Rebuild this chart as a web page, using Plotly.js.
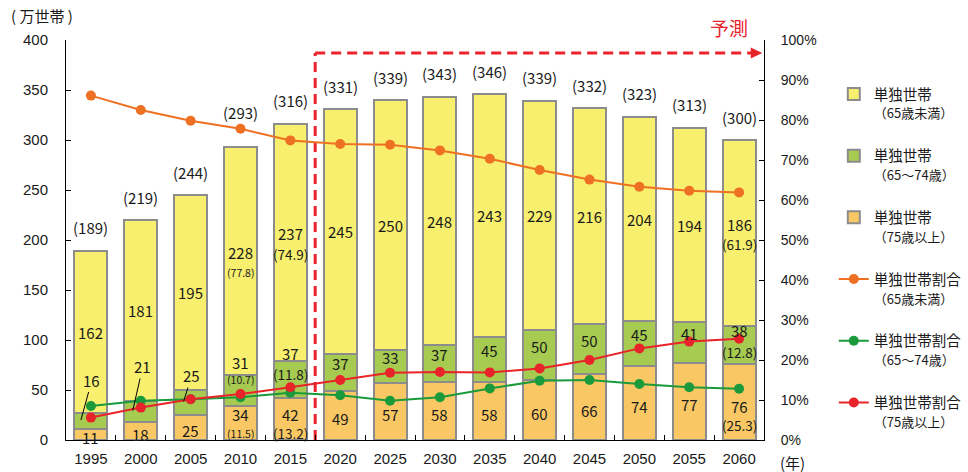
<!DOCTYPE html>
<html><head><meta charset="utf-8">
<script src="https://cdn.plot.ly/plotly-3.0.1.min.js"></script>
<style>html,body{margin:0;padding:0;background:#fff}#chart{width:968px;height:472px}</style>
</head><body><div id="chart"></div>
<script>
// ---- data ----
const years = ['1995','2000','2005','2010','2015','2020','2025','2030','2035','2040','2045','2050','2055','2060'];
const under65   = [162,181,195,228,237,245,250,248,243,229,216,204,194,186];
const age65to74 = [16,21,25,31,37,37,33,37,45,50,50,45,41,38];
const age75plus = [11,18,25,34,42,49,57,58,58,60,66,74,77,76];
const totals    = [189,219,244,293,316,331,339,343,346,339,332,323,313,300];
const shareUnder65  = [86.1,82.5,79.8,77.8,74.9,74.0,73.8,72.4,70.3,67.5,65.1,63.3,62.3,61.9];
const share65to74   = [8.5,9.8,10.2,10.7,11.8,11.2,9.8,10.7,12.9,14.8,15.0,14.0,13.2,12.8];
const share75plus   = [5.6,8.1,10.2,11.5,13.2,15.0,16.8,17.0,16.9,17.9,20.0,22.9,24.6,25.3];
const pctShownIdx = [3,4,13];

// ---- styles / label placement ----
const C = {yellow:'#f8ef6e', green:'#a7ca50', orange:'#f9c864', edge:'#8c8c8c',
           lOrange:'#ee7023', lGreen:'#1b9a3c', lRed:'#e8232a', red:'#e8232a'};
const JP = '"Noto Sans CJK JP", sans-serif';
const NUM = '"Liberation Sans", Arial, sans-serif';
const valFont = {family:JP, size:15, color:'#1a1a1a'};
const totalLift = [24,24,24,35,24,23,24,24,23,24,23,24,23,23];
// leader-lines for small green segments (pixel offsets of the label from the pointed spot)
const leader = {0:{xs:-10, ax:11, ay:-40}, 1:{xs:-8, ax:10, ay:-44}, 2:{xs:-7, ax:8, ay:-26}};
const greenPct = {3:{v:13, p:-4}, 4:{v:8, p:-13}, 13:{v:-4, p:-26}};

const sub = t => '<br><span style="font-size:13px">' + t + '</span>';
const traces = [
  {type:'bar', x:years, y:age75plus, name:'単独世帯' + sub('（75歳以上）'),
   marker:{color:C.orange, line:{color:C.edge, width:2}}, legendrank:3, legendgroup:'c', hoverinfo:'skip'},
  {type:'bar', x:years, y:age65to74, name:'単独世帯' + sub('（65～74歳）'),
   marker:{color:C.green, line:{color:C.edge, width:2}}, legendrank:2, legendgroup:'b', hoverinfo:'skip'},
  {type:'bar', x:years, y:under65, name:'単独世帯' + sub('（65歳未満）'),
   marker:{color:C.yellow, line:{color:C.edge, width:2}}, legendrank:1, legendgroup:'a', hoverinfo:'skip'},
  {type:'scatter', mode:'lines+markers', x:years, y:shareUnder65, yaxis:'y2',
   name:'単独世帯割合' + sub('（65歳未満）'),
   line:{color:C.lOrange, width:2}, marker:{color:C.lOrange, size:10}, legendrank:4, legendgroup:'d', hoverinfo:'skip'},
  {type:'scatter', mode:'lines+markers', x:years, y:share65to74, yaxis:'y2',
   name:'単独世帯割合' + sub('（65～74歳）'),
   line:{color:C.lGreen, width:2}, marker:{color:C.lGreen, size:10}, legendrank:5, legendgroup:'e', hoverinfo:'skip'},
  {type:'scatter', mode:'lines+markers', x:years, y:share75plus, yaxis:'y2',
   name:'単独世帯割合' + sub('（75歳以上）'),
   line:{color:C.lRed, width:2}, marker:{color:C.lRed, size:10}, legendrank:6, legendgroup:'f', hoverinfo:'skip'}
];

const ann = [];
years.forEach((yr,i)=>{
  const o = age75plus[i], g = age65to74[i], u = under65[i];
  const hasPct = pctShownIdx.includes(i);
  const pFont = {family:JP, size: i===3 ? 10.5 : 13.5, color:'#1a1a1a'};
  const base = {x:i, xref:'x', yref:'y', showarrow:false, xanchor:'center', yanchor:'middle', font:valFont};
  const add = o => ann.push(Object.assign({}, base, o));
  // total
  add({y:totals[i]+totalLift[i], text:'('+totals[i]+')'});
  // under 65
  const mu = o + g + u/2;
  if (hasPct) {
    add({y:mu+9, text:String(u)});
    add({y:mu-11, text:'('+shareUnder65[i].toFixed(1)+')', font:pFont});
  } else {
    add({y:mu, text:String(u)});
  }
  // 65-74
  const top = o + g;
  if (leader[i]) {
    const L = leader[i];
    add({y:o + g/2 + 1, text:String(g), showarrow:true, arrowhead:0, arrowwidth:1, arrowcolor:'#000',
         ax:L.ax, ay:L.ay, xshift:L.xs, standoff:0});
  } else if (greenPct[i]) {
    add({y:top+greenPct[i].v, text:String(g)});
    add({y:top+greenPct[i].p, text:'('+share65to74[i].toFixed(1)+')', font:pFont});
  } else {
    add({y:o + g/2 + 9, text:String(g)});
  }
  // 75+
  if (hasPct) {
    const py = Math.max(o/2 - 23, 7);
    add({y:py+19, text:String(o)});
    add({y:py, text:'('+share75plus[i].toFixed(1)+')', font:pFont});
  } else {
    add({y:o/2 - 3, text:String(o)});
  }
});
const paperTxt = (x,y,text,font) => ann.push({xref:'paper', yref:'paper', x:x, y:y, xanchor:'center', yanchor:'middle', text:text, showarrow:false, font:font});
paperTxt(-0.035, 1.0625, '( 万世帯 )', {family:JP, size:15, color:'#1a1a1a'});
paperTxt(0.95, 1.0325, '予測', {family:JP, size:19, color:C.red});
paperTxt(1.0415, -0.055, '(年)', {family:JP, size:15, color:'#1a1a1a'});

const dashLine = {color:C.red, width:3, dash:'10px,6px'};
const shapes = [
  {type:'line', xref:'paper', yref:'paper', x0:0.357, x1:0.357, y0:0, y1:0.9675, line:dashLine, layer:'below'},
  {type:'line', xref:'paper', yref:'paper', x0:0.357, x1:0.982, y0:0.9675, y1:0.9675, line:dashLine, layer:'below'},
  {type:'path', xref:'paper', yref:'paper', path:'M0.981,0.981 L0.9975,0.9675 L0.981,0.954 Z', fillcolor:C.red, line:{width:0}}
];

const axBase = {showgrid:false, zeroline:false, showline:true, linecolor:'#000', linewidth:1,
                ticks:'inside', ticklen:5, tickcolor:'#000', fixedrange:true, automargin:false};
const layout = {
  width:968, height:472, paper_bgcolor:'#fff', plot_bgcolor:'#fff',
  margin:{l:66, r:204, t:40, b:32, autoexpand:false},
  barmode:'stack', bargap:0.34,
  font:{family:JP, color:'#1a1a1a'},
  xaxis:Object.assign({}, axBase, {type:'category', tickson:'boundaries', range:[-0.5,13.5],
        tickfont:{family:NUM, size:15, color:'#1a1a1a'}, ticklabelstandoff:5}),
  yaxis:Object.assign({}, axBase, {range:[0,400], dtick:50, tickfont:{family:NUM, size:15, color:'#1a1a1a'}, ticklabelstandoff:14}),
  yaxis2:Object.assign({}, axBase, {overlaying:'y', side:'right', range:[0,100], dtick:10, ticksuffix:'%',
        tickfont:{family:NUM, size:14, color:'#1a1a1a'}, ticklabelstandoff:13}),
  showlegend:true,
  legend:{x:1.1, xanchor:'left', y:0.905, yanchor:'top', traceorder:'grouped', tracegroupgap:21,
          valign:'top', font:{family:JP, size:14.5, color:'#1a1a1a'}, bgcolor:'rgba(0,0,0,0)', itemwidth:30},
  annotations:ann, shapes:shapes
};
Plotly.newPlot('chart', traces, layout, {displayModeBar:false, staticPlot:true});
</script></body></html>
